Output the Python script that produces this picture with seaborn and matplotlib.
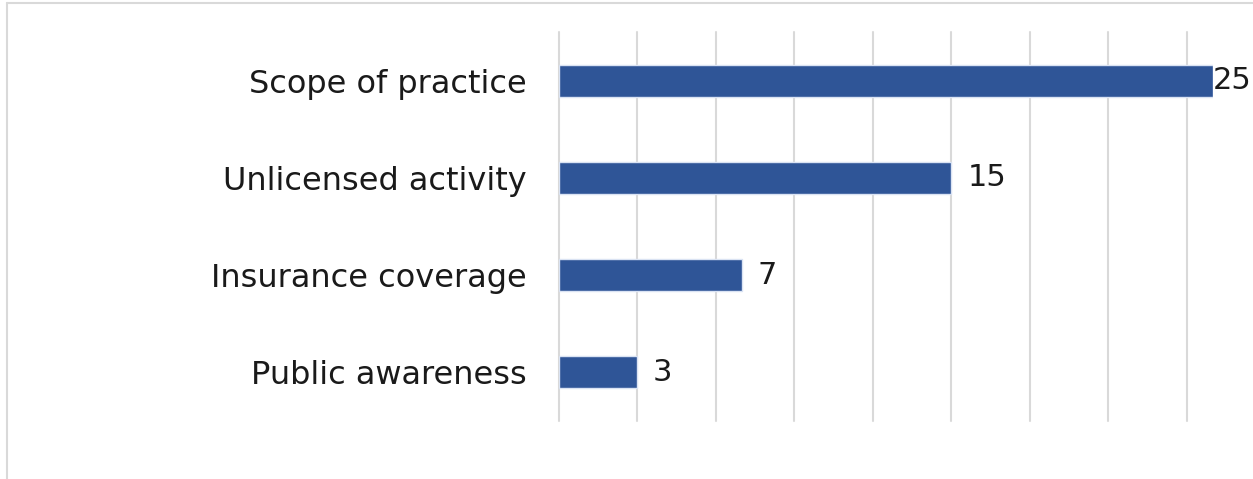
import matplotlib
matplotlib.use("Agg")
import matplotlib.pyplot as plt
from matplotlib.lines import Line2D
import seaborn as sns

# data
categories = ["Scope of practice", "Unlicensed activity", "Insurance coverage", "Public awareness"]
values = [25, 15, 7, 3]
label_offsets = [0, 12, 11, 11]  # points, as in the original

sns.set_theme(style="white")
plt.rcParams['font.family'] = ['DejaVu Sans']

fig = plt.figure(figsize=(12.53, 4.79), dpi=100)
ax = fig.add_axes([0.4461, 0.1211, 0.968 - 0.4461, 0.9332 - 0.1211])

sns.barplot(x=values, y=categories, orient="h", color="#2F5597", saturation=1,
            width=0.33, edgecolor="#DAE3F3", linewidth=1, ax=ax, zorder=3)

# value labels next to the bars
for i, v in enumerate(values):
    ax.annotate(str(v), xy=(v, i), xytext=(label_offsets[i], 0), textcoords="offset points",
                ha="left", va="center", fontsize=22, color="#1a1a1a",
                annotation_clip=False, zorder=4)

ax.set_xlim(0, 25)
ax.set_ylim(3.5, -0.5)
ax.set_xticks(range(0, 25, 3))
ax.set_xticklabels([])
ax.tick_params(axis="x", length=0)
ax.tick_params(axis="y", length=0, pad=23, labelsize=23, labelcolor="#1a1a1a")
ax.set_xlabel("")
ax.set_ylabel("")

ax.xaxis.grid(True, color="#D9D9D9", linewidth=1.5)
ax.yaxis.grid(False)
ax.set_axisbelow(True)
for gl in ax.get_xgridlines():
    gl.set_clip_on(False)
sns.despine(ax=ax, left=True, bottom=True)

# chart area border (top and left visible)
fig.add_artist(Line2D([7 / 1253, 1], [1 - 3 / 479, 1 - 3 / 479], transform=fig.transFigure,
                      color="#D9D9D9", linewidth=1.5))
fig.add_artist(Line2D([7 / 1253, 7 / 1253], [0, 1 - 3 / 479], transform=fig.transFigure,
                      color="#D9D9D9", linewidth=1.5))

fig.savefig("out.png", dpi=100)
